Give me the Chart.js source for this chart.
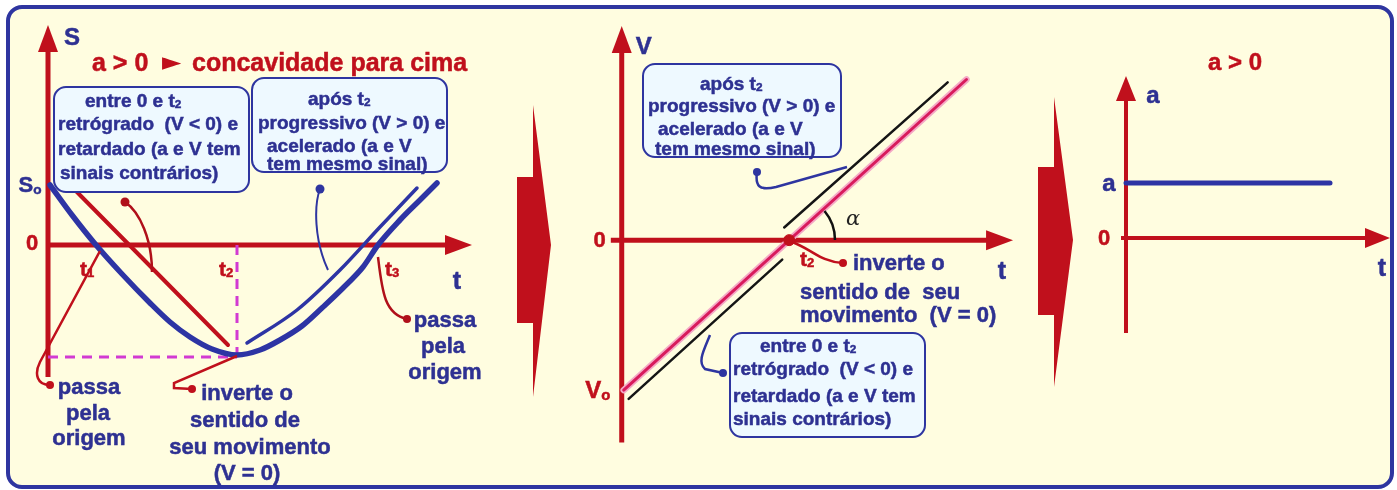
<!DOCTYPE html>
<html><head><meta charset="utf-8">
<script src="https://cdn.jsdelivr.net/npm/chart.js@4.4.1/dist/chart.umd.min.js"></script>
<style>
html,body{margin:0;padding:0;background:#fff;}
#wrap{position:relative;width:1397px;height:490px;overflow:hidden;font-family:"Liberation Sans",Arial,"DejaVu Sans",sans-serif;font-weight:bold;}
#frame{position:absolute;left:6px;top:5px;width:1388px;height:484px;box-sizing:border-box;border:4px solid #2e35a0;border-radius:16px;background:#fffde0;}
canvas.ch{position:absolute;left:0;top:0;}
.box{position:absolute;box-sizing:border-box;border:2.5px solid #2e35a0;border-radius:13px;background:#eef9ff;}
.t{position:absolute;white-space:nowrap;transform:translateY(-50%);line-height:1;-webkit-text-stroke:0.5px currentColor;}
.c{transform:translate(-50%,-50%);}
.blue{color:#2e3192;}
.red{color:#c0101c;}
.b19{font-size:19px;}
.b21{font-size:22px;}
sub{font-size:62%;vertical-align:-0.15em;line-height:0;}
svg{position:absolute;left:0;top:0;}
</style></head>
<body>
<div id="wrap">
<div id="frame"></div>
<canvas id="c1" class="ch" width="1397" height="490"></canvas>
<canvas id="c2" class="ch" width="1397" height="490"></canvas>
<canvas id="c3" class="ch" width="1397" height="490"></canvas>
<svg width="1397" height="490" id="deco">
  <path d="M517,177 L533,177 L533,105 L551,245 L533,397 L533,323 L517,323 Z" fill="#c0101c"/>
  <path d="M1038,167 L1054,167 L1054,97 L1073,240 L1054,387 L1054,315 L1038,315 Z" fill="#c0101c"/>
  <path d="M125,202 C140,212 152,240 152,272" stroke="#b0101a" stroke-width="2.5" fill="none"/>
  <circle cx="125" cy="202" r="4.5" fill="#b0101a"/>
  <path d="M320,189 C314,205 314,240 328,270" stroke="#2e35a0" stroke-width="2" fill="none"/>
  <circle cx="320" cy="189" r="4.5" fill="#2e35a0"/>
  <path d="M50,385 C37,385 34,374 40,362 L100,251" stroke="#c0101c" stroke-width="2.5" fill="none"/>
  <circle cx="50" cy="385" r="4" fill="#c0101c"/>
  <path d="M192,389 L174,388 L174,383 L237,356" stroke="#c0101c" stroke-width="2.5" fill="none"/>
  <circle cx="192" cy="389" r="4" fill="#c0101c"/>
  <path d="M378,257 C382,290 384,314 407,319" stroke="#b0101a" stroke-width="2.5" fill="none"/>
  <circle cx="407" cy="319" r="4" fill="#b0101a"/>
  <path d="M757,172 C755,186 759,191 776,187 L847,167" stroke="#2e35a0" stroke-width="2.5" fill="none"/>
  <circle cx="757" cy="172" r="4" fill="#2e35a0"/>
  <path d="M792,242 C810,248 820,262 843,263" stroke="#c0101c" stroke-width="2.5" fill="none"/>
  <circle cx="843" cy="263" r="4" fill="#c0101c"/>
  <path d="M710,335 C704,350 697,362 705,369 L723,373" stroke="#2e35a0" stroke-width="2.5" fill="none"/>
  <circle cx="723" cy="373" r="4" fill="#2e35a0"/>
  <path d="M835,240 A45,45 0 0,0 824.5,211" stroke="#111" stroke-width="2.5" fill="none"/>
</svg>

<div class="box" style="left:53px;top:86px;width:197px;height:107px"></div>
<div class="box" style="left:251px;top:77px;width:197px;height:96px"></div>
<div class="box" style="left:642px;top:63px;width:200px;height:95px"></div>
<div class="box" style="left:729px;top:332px;width:197px;height:106px"></div>

<div class="t red" style="left:92px;top:62px;font-size:25px">a &gt; 0</div>
<div class="t red" style="left:162px;top:61px;font-size:25px;font-family:'DejaVu Sans',sans-serif;-webkit-text-stroke:0">&#9658;</div>
<div class="t red" style="left:192px;top:62px;font-size:25px">concavidade para cima</div>

<div class="t blue b19" style="left:85px;top:100px">entre 0 e t<sub>2</sub></div>
<div class="t blue b19" style="left:58px;top:123px">retrógrado &nbsp;(V &lt; 0) e</div>
<div class="t blue b19" style="left:58px;top:148px">retardado (a e V tem</div>
<div class="t blue b19" style="left:60px;top:172px">sinais contrários)</div>

<div class="t blue b19" style="left:308px;top:98px">após t<sub>2</sub></div>
<div class="t blue b19" style="left:258px;top:122px">progressivo (V &gt; 0) e</div>
<div class="t blue b19" style="left:267px;top:145px">acelerado (a e V</div>
<div class="t blue b19" style="left:267px;top:163px">tem mesmo sinal)</div>

<div class="t blue b19" style="left:700px;top:83px">após t<sub>2</sub></div>
<div class="t blue b19" style="left:648px;top:105px">progressivo (V &gt; 0) e</div>
<div class="t blue b19" style="left:658px;top:128px">acelerado (a e V</div>
<div class="t blue b19" style="left:655px;top:148px">tem mesmo sinal)</div>

<div class="t blue b19" style="left:760px;top:345px">entre 0 e t<sub>2</sub></div>
<div class="t blue b19" style="left:733px;top:368px">retrógrado &nbsp;(V &lt; 0) e</div>
<div class="t blue b19" style="left:733px;top:395px">retardado (a e V tem</div>
<div class="t blue b19" style="left:733px;top:418px">sinais contrários)</div>

<div class="t c blue b21" style="left:89px;top:387px">passa</div>
<div class="t c blue b21" style="left:88px;top:413px">pela</div>
<div class="t c blue b21" style="left:89px;top:438px">origem</div>

<div class="t c blue b21" style="left:247px;top:393px">inverte o</div>
<div class="t c blue b21" style="left:245px;top:420px">sentido de</div>
<div class="t c blue b21" style="left:250px;top:447px">seu movimento</div>
<div class="t c blue b21" style="left:247px;top:473px">(V = 0)</div>

<div class="t c blue b21" style="left:445px;top:320px">passa</div>
<div class="t c blue b21" style="left:443px;top:346px">pela</div>
<div class="t c blue b21" style="left:445px;top:372px">origem</div>

<div class="t blue b21" style="left:853px;top:263px">inverte o</div>
<div class="t blue b21" style="left:800px;top:292px">sentido de &nbsp;seu</div>
<div class="t blue b21" style="left:800px;top:315px">movimento &nbsp;(V = 0)</div>

<div class="t c" style="left:853px;top:218px;font-family:'DejaVu Serif',serif;font-style:italic;font-weight:normal;font-size:21px;color:#222;-webkit-text-stroke:0">α</div>
<div class="t c red" style="left:1235px;top:62px;font-size:24px">a &gt; 0</div>
<div id="labels"></div>
</div>

<script>
// ---------- DATA ----------
// Panel 1: position S versus time t (parabola, a > 0)
const sTime  = [0.2, 2.4, 4.8, 7.4, 10.2, 12.2, 14.2, 16.4, 18.9, 21.2, 23.2, 25.4, 27.5, 29.5, 31.5, 33.0, 35.2, 37.2, 38.9];
const sPos   = [6.0, 3.0, 0.0, -2.9, -5.8, -7.7, -9.2, -10.4, -11.0, -10.5, -9.5, -8.1, -6.2, -4.3, -2.2, 0.0, 2.5, 4.5, 6.2];
// thin companion curve along the branch after t2
const sTime2 = [19.9, 24.9, 29.2, 33.2, 36.9];
const sPos2  = [-9.8, -6.5, -2.5, 1.8, 5.7];
// red line along the branch before t2
const tanTime = [2.5, 18.0];
const tanPos  = [5.7, -10.0];
// key instants and values
const t1 = 4.8, t2 = 18.9, t3 = 33.0, S0 = 6.0, Smin = -11.2;

// Panel 2: velocity V versus time (straight line)
const vTime = [0.2, 34.8];
const vVel  = [-15.4, 16.5];
const vLowTime = [0.7, 16.2], vLowVel = [-16.3, -2.0];
const vUpTime  = [16.4, 32.9], vUpVel  = [1.3, 16.2];
const vT2 = 16.9, V0 = -15.4;

// Panel 3: acceleration a versus time (constant)
const aTime = [0, 20.4];
const aVal  = [5.5, 5.5];

// tick / axis labels
const p1Ticks = [
  {x: t1, y: 0, html: 't<sub>1</sub>', cls: 'red', dx: -9, dy: 23, fs: 21},
  {x: t2, y: 0, html: 't<sub>2</sub>', cls: 'red', dx: -11, dy: 23, fs: 21},
  {x: t3, y: 0, html: 't<sub>3</sub>', cls: 'red', dx: 14, dy: 23, fs: 21},
  {x: 0, y: S0, html: 'S<sub>o</sub>', cls: 'blue', dx: -18, dy: 0, fs: 22},
  {x: 0, y: 0, html: '0', cls: 'red', dx: -16, dy: -2, fs: 22},
  {x: 0, y: 22, html: 'S', cls: 'blue', dx: 24, dy: 12, fs: 24},
  {x: 42.4, y: 0, html: 't', cls: 'blue', dx: -15, dy: 35, fs: 25}
];
const p2Ticks = [
  {x: vT2, y: 0, html: 't<sub>2</sub>', cls: 'red', dx: 18, dy: 18, fs: 21},
  {x: 0, y: 0, html: '0', cls: 'red', dx: -22, dy: 0, fs: 22},
  {x: 0, y: V0, html: 'V<sub>o</sub>', cls: 'red', dx: -24, dy: 0, fs: 24},
  {x: 0, y: 22, html: 'V', cls: 'blue', dx: 22, dy: 20, fs: 24},
  {x: 39.5, y: 0, html: 't', cls: 'blue', dx: -11, dy: 30, fs: 25}
];
const p3Ticks = [
  {x: 0, y: 5.5, html: 'a', cls: 'blue', dx: -17, dy: 0, fs: 24},
  {x: 0, y: 0, html: '0', cls: 'red', dx: -22, dy: 0, fs: 22},
  {x: 0, y: 16.2, html: 'a', cls: 'blue', dx: 27, dy: 19, fs: 24},
  {x: 26.4, y: 0, html: 't', cls: 'blue', dx: -8, dy: 29, fs: 25}
];

// ---------- LAYOUT ----------
const W = 1397, H = 490, PX = 10;
function scalesFor(ox, oy) {
  return {
    x: {type: 'linear', display: false, min: -ox / PX, max: (W - ox) / PX},
    y: {type: 'linear', display: false, min: -(H - oy) / PX, max: oy / PX}
  };
}
const RED = '#c0101c', BLUE = '#2d34a4';

const arrowAxes = {
  id: 'arrowAxes',
  beforeDatasetsDraw(chart, args, o) {
    const {ctx} = chart, x = chart.scales.x, y = chart.scales.y;
    ctx.save();
    ctx.strokeStyle = o.color; ctx.fillStyle = o.color; ctx.lineWidth = o.width; ctx.lineCap = 'butt';
    const x0 = x.getPixelForValue(0), y0 = y.getPixelForValue(0);
    const yb = y.getPixelForValue(o.yFrom), yt = y.getPixelForValue(o.yTo);
    ctx.beginPath(); ctx.moveTo(x0, yb); ctx.lineTo(x0, yt + o.head - 2); ctx.stroke();
    ctx.beginPath(); ctx.moveTo(x0, yt); ctx.lineTo(x0 - o.hw, yt + o.head); ctx.lineTo(x0 + o.hw, yt + o.head); ctx.closePath(); ctx.fill();
    const xl = x.getPixelForValue(o.xFrom), xr = x.getPixelForValue(o.xTo);
    ctx.beginPath(); ctx.moveTo(xl, y0); ctx.lineTo(xr - o.head + 2, y0); ctx.stroke();
    ctx.beginPath(); ctx.moveTo(xr, y0); ctx.lineTo(xr - o.head, y0 - o.hw); ctx.lineTo(xr - o.head, y0 + o.hw); ctx.closePath(); ctx.fill();
    ctx.restore();
  }
};
Chart.register(arrowAxes);

function pts(xs, ys) { return xs.map((v, i) => ({x: v, y: ys[i]})); }
function line(data, color, width, extra) {
  return Object.assign({data, borderColor: color, backgroundColor: color, borderWidth: width,
    showLine: true, pointRadius: 0, fill: false, borderCapStyle: 'round'}, extra || {});
}
// datasets listed bottom-to-top; 'order' makes later ones draw on top
function make(id, ox, oy, datasets, axes) {
  datasets.forEach((d, i) => { d.order = datasets.length - i; });
  return new Chart(document.getElementById(id), {
    type: 'scatter',
    data: {datasets},
    options: {
      responsive: false, animation: false, events: [],
      layout: {padding: 0},
      scales: scalesFor(ox, oy),
      plugins: {legend: {display: false}, tooltip: {enabled: false}, arrowAxes: axes}
    }
  });
}

const ch1 = make('c1', 48, 245, [
  line(pts([t2, t2], [0, Smin]), '#d23ad2', 3, {borderDash: [10, 7], borderCapStyle: 'butt'}),
  line(pts([0, t2], [Smin, Smin]), '#d23ad2', 3, {borderDash: [10, 7], borderCapStyle: 'butt'}),
  line(pts(tanTime, tanPos), RED, 4),
  line(pts(sTime2, sPos2), BLUE, 3.5, {tension: 0.4, cubicInterpolationMode: 'monotone'}),
  line(pts(sTime, sPos), BLUE, 5.5, {tension: 0.4, cubicInterpolationMode: 'monotone'})
], {color: RED, width: 5, head: 27, hw: 10, xFrom: 0, xTo: 42.4, yFrom: -13.2, yTo: 22});

const ch2 = make('c2', 621, 240, [
  line(pts(vLowTime, vLowVel), '#151515', 2.5),
  line(pts(vUpTime, vUpVel), '#151515', 2.5),
  line(pts(vTime, vVel), '#f4a9c6', 6.5),
  line(pts(vTime, vVel), '#d81b5c', 3),
  {data: [{x: vT2, y: 0}], pointRadius: 5.5, backgroundColor: RED, borderColor: RED, showLine: false}
], {color: RED, width: 5, head: 27, hw: 10, xFrom: -1.1, xTo: 39.5, yFrom: -20.8, yTo: 22});

const ch3 = make('c3', 1126, 238, [
  line(pts(aTime, aVal), BLUE, 5)
], {color: RED, width: 4, head: 25, hw: 10, xFrom: -0.5, xTo: 26.4, yFrom: -9.5, yTo: 16.2});

// tick labels placed through the chart scales
const holder = document.getElementById('labels');
function placeLabels(chart, list) {
  list.forEach(l => {
    const d = document.createElement('div');
    d.className = 't c ' + l.cls;
    d.style.fontSize = l.fs + 'px';
    d.style.left = (chart.scales.x.getPixelForValue(l.x) + l.dx) + 'px';
    d.style.top = (chart.scales.y.getPixelForValue(l.y) + l.dy) + 'px';
    d.innerHTML = l.html;
    holder.appendChild(d);
  });
}
placeLabels(ch1, p1Ticks);
placeLabels(ch2, p2Ticks);
placeLabels(ch3, p3Ticks);
</script>
</body></html>
